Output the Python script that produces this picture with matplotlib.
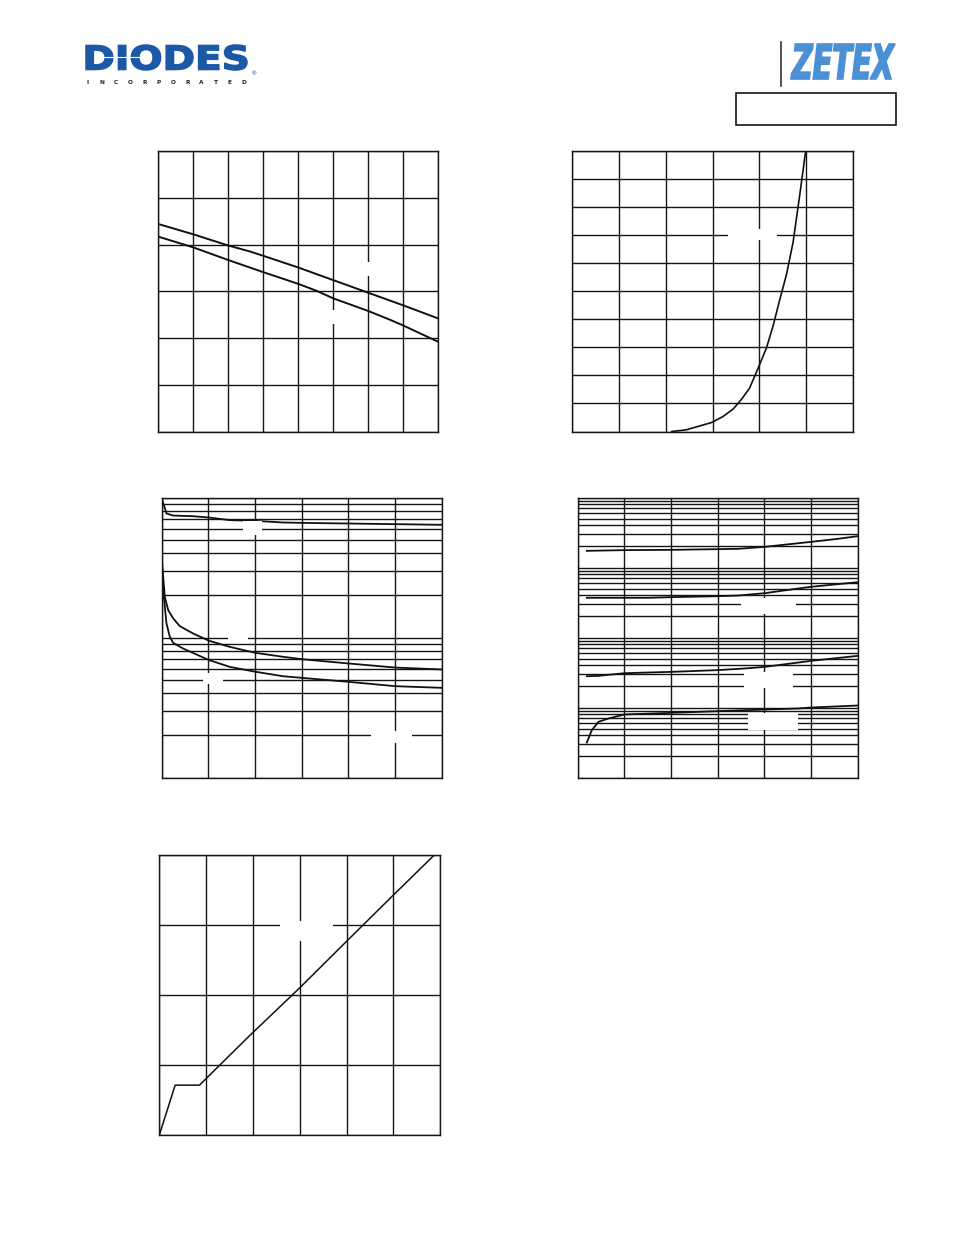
import numpy as np
import matplotlib
matplotlib.use("Agg")
import matplotlib.pyplot as plt
from matplotlib.patches import Rectangle, PathPatch
from matplotlib.textpath import TextPath
from matplotlib.font_manager import FontProperties
from matplotlib.transforms import Affine2D

W, H = 954, 1235

# chart 1 (two falling lines, linear grid 8 x 6)
c1_x_up = [0, 1, 2, 2.63, 3, 4, 5, 6, 7, 8]
c1_y_up = [4.44, 4.22, 3.98, 3.85, 3.76, 3.51, 3.24, 2.97, 2.70, 2.42]
c1_x_lo = [0, 1, 2, 3, 4, 4.53, 5, 6, 6.63, 7, 8]
c1_y_lo = [4.17, 3.94, 3.67, 3.41, 3.16, 3.01, 2.85, 2.58, 2.39, 2.27, 1.92]

# chart 2 (rising exponential, linear grid 6 x 10)
c2_x = [2.13, 2.44, 2.73, 2.98, 3.22, 3.44, 3.62, 3.79, 3.99, 4.15, 4.29, 4.43, 4.58, 4.72, 4.86, 4.99]
c2_y = [0.0, 0.06, 0.20, 0.32, 0.53, 0.80, 1.15, 1.54, 2.32, 2.97, 3.74, 4.66, 5.60, 6.74, 8.40, 10.0]

# chart 3 (log y, 2 decades)
c3_x_top = [0, 0.107, 0.249, 0.677, 1.02, 1.46, 2.01, 2.6, 3.0, 4.01, 5.0, 6.0]
c3_y_top = [100, 76.9, 74.3, 73.5, 71.9, 68.9, 68.1, 66.3, 65.9, 65.2, 64.5, 63.8]
c3_x_mid = [0, 0.036, 0.071, 0.143, 0.249, 0.392, 0.677, 1.02, 1.46, 2.01, 2.6, 3.0, 4.01, 5.0, 6.0]
c3_y_mid = [38.7, 27.1, 19.5, 15.7, 13.7, 12.05, 10.68, 9.47, 8.57, 7.77, 7.28, 7.0, 6.52, 6.10, 5.91]
c3_x_low = [0, 0.036, 0.107, 0.178, 0.249, 0.463, 1.02, 1.46, 2.01, 2.6, 3.0, 4.01, 5.0, 6.0]
c3_y_low = [36.7, 21.8, 12.6, 10.1, 9.16, 8.34, 6.89, 6.17, 5.69, 5.29, 5.15, 4.82, 4.49, 4.37]

# chart 4 (log y, 4 decades, four curves)
c4_x_a = [0.199, 1.0, 2.01, 3.0, 3.44, 4.01, 5.0, 5.57, 6.0]
c4_y_a = [1730, 1770, 1787, 1828, 1848, 1974, 2326, 2569, 2803]
c4_x_b = [0.199, 1.0, 1.516, 2.01, 3.0, 3.44, 4.01, 4.72, 5.0, 6.0]
c4_y_b = [369, 369, 369, 377, 389, 398, 430, 501, 530, 617]
c4_x_c = [0.199, 0.448, 1.0, 2.01, 3.0, 3.58, 4.01, 5.0, 6.0]
c4_y_c = [28.0, 28.3, 30.9, 32.3, 34.2, 36.1, 38.1, 46.4, 54.7]
c4_x_d = [0.199, 0.306, 0.448, 0.662, 1.0, 2.01, 3.0, 3.58, 4.01, 4.72, 5.0, 6.0]
c4_y_d = [3.16, 4.74, 6.24, 6.96, 7.94, 8.39, 8.87, 9.16, 9.36, 9.68, 10.0, 10.68]

# chart 5 (kinked straight line, linear grid 6 x 4)
c5_x = [0, 0.335, 0.855, 1.938, 2.986, 3.99, 5.0, 5.89]
c5_y = [0, 0.705, 0.705, 1.419, 2.086, 2.752, 3.419, 4.0]

GRID = "#151515"
LINE = "#111111"

fig = plt.figure(figsize=(W / 100, H / 100), dpi=100)


def px_axes(l, t, r, b):
    return fig.add_axes([l / W, 1 - b / H, (r - l) / W, (b - t) / H])


def style(ax, xmax, ymax, ncol, nrow=None, logy=False, ymin=0):
    ax.set_xlim(0, xmax)
    ax.set_xticks(np.linspace(0, xmax, ncol + 1))
    if logy:
        ax.set_yscale("log")
        ax.set_ylim(ymin, ymax)
        ax.grid(True, which="both", axis="y", color=GRID, lw=1.0)
        ax.grid(True, which="major", axis="x", color=GRID, lw=1.0)
    else:
        ax.set_ylim(0, ymax)
        ax.set_yticks(np.linspace(0, ymax, nrow + 1))
        ax.grid(True, color=GRID, lw=1.0)
    ax.tick_params(which="both", length=0, labelbottom=False, labelleft=False)
    for s in ax.spines.values():
        s.set_color(GRID)
        s.set_linewidth(1.0)
    ax.set_axisbelow(True)


ax1 = px_axes(158, 151, 438, 431.5)
style(ax1, 8, 6, 8, 6)
ax1.plot(c1_x_up, c1_y_up, color=LINE, lw=1.4)
ax1.plot(c1_x_lo, c1_y_lo, color=LINE, lw=1.4)

ax2 = px_axes(572, 151, 853, 431.5)
style(ax2, 6, 10, 6, 10)
ax2.plot(c2_x, c2_y, color=LINE, lw=1.2)

ax3 = px_axes(161.5, 497.5, 442, 777.5)
style(ax3, 6, 100, 6, logy=True, ymin=1)
ax3.plot(c3_x_top, c3_y_top, color=LINE, lw=1.3)
ax3.plot(c3_x_mid, c3_y_mid, color=LINE, lw=1.3)
ax3.plot(c3_x_low, c3_y_low, color=LINE, lw=1.3)

ax4 = px_axes(577.5, 497.5, 858, 777.5)
style(ax4, 6, 1e4, 6, logy=True, ymin=1)
for xs, ys in [(c4_x_a, c4_y_a), (c4_x_b, c4_y_b), (c4_x_c, c4_y_c), (c4_x_d, c4_y_d)]:
    ax4.plot(xs, ys, color=LINE, lw=1.3)

ax5 = px_axes(159.5, 854.5, 440, 1134.5)
style(ax5, 6, 4, 6, 4)
ax5.plot(c5_x, c5_y, color=LINE, lw=1.1)

# overlay in page pixels: logos, frame and the blanked label areas
ov = fig.add_axes([0, 0, 1, 1], zorder=10)
ov.set_xlim(0, W)
ov.set_ylim(H, 0)
ov.axis("off")
ov.patch.set_alpha(0)

label_blanks = [
    (364, 262, 373, 276), (331, 310, 337, 324),
    (728, 229, 777, 240),
    (243, 521, 262, 535), (228, 632, 248, 642), (203, 673, 223, 684), (371, 731, 412, 743),
    (741, 598, 796, 614), (744, 672, 793, 688), (748, 713, 798, 730),
    (280, 921, 333, 941),
]
for l, t, r, b in label_blanks:
    ov.add_patch(Rectangle((l, t), r - l, b - t, facecolor="white", edgecolor="none"))


def fit_text(s, x0, y0, x1, y1, color, stroke=0, **kw):
    tp = TextPath((0, 0), s, size=100, prop=FontProperties(**kw))
    bb = tp.get_extents()
    tr = (Affine2D().translate(-bb.x0, -bb.y0)
          .scale((x1 - x0) / bb.width, -(y1 - y0) / bb.height)
          .translate(x0, y1))
    ov.add_patch(PathPatch(tr.transform_path(tp), facecolor=color,
                           edgecolor=color, lw=stroke, joinstyle="miter"))


fit_text("DIODES", 86, 45, 247, 70, "#1b58a5", stroke=1.1, family="DejaVu Sans", weight="heavy")
ov.plot([96, 150], [57, 57], color="white", lw=0.8, solid_capstyle="butt")
ov.text(250, 74, "®", fontsize=4.5, color="#1b58a5", ha="left", va="center")
for xi, ch in zip(np.linspace(88, 244, 12), "INCORPORATED"):
    ov.text(xi, 83, ch, fontsize=4.2, weight="bold", color="#222222", ha="center", va="center")

fit_text("ZETEX", 791, 44, 895, 79, "#4b8fd5", stroke=1.2, family="DejaVu Sans", weight="bold", style="italic")
ov.plot([781, 781], [42, 86], color="#333333", lw=1.2)
ov.add_patch(Rectangle((736, 93), 160, 32, facecolor="none", edgecolor="black", lw=1.1))

fig.savefig("out.png", dpi=100)
